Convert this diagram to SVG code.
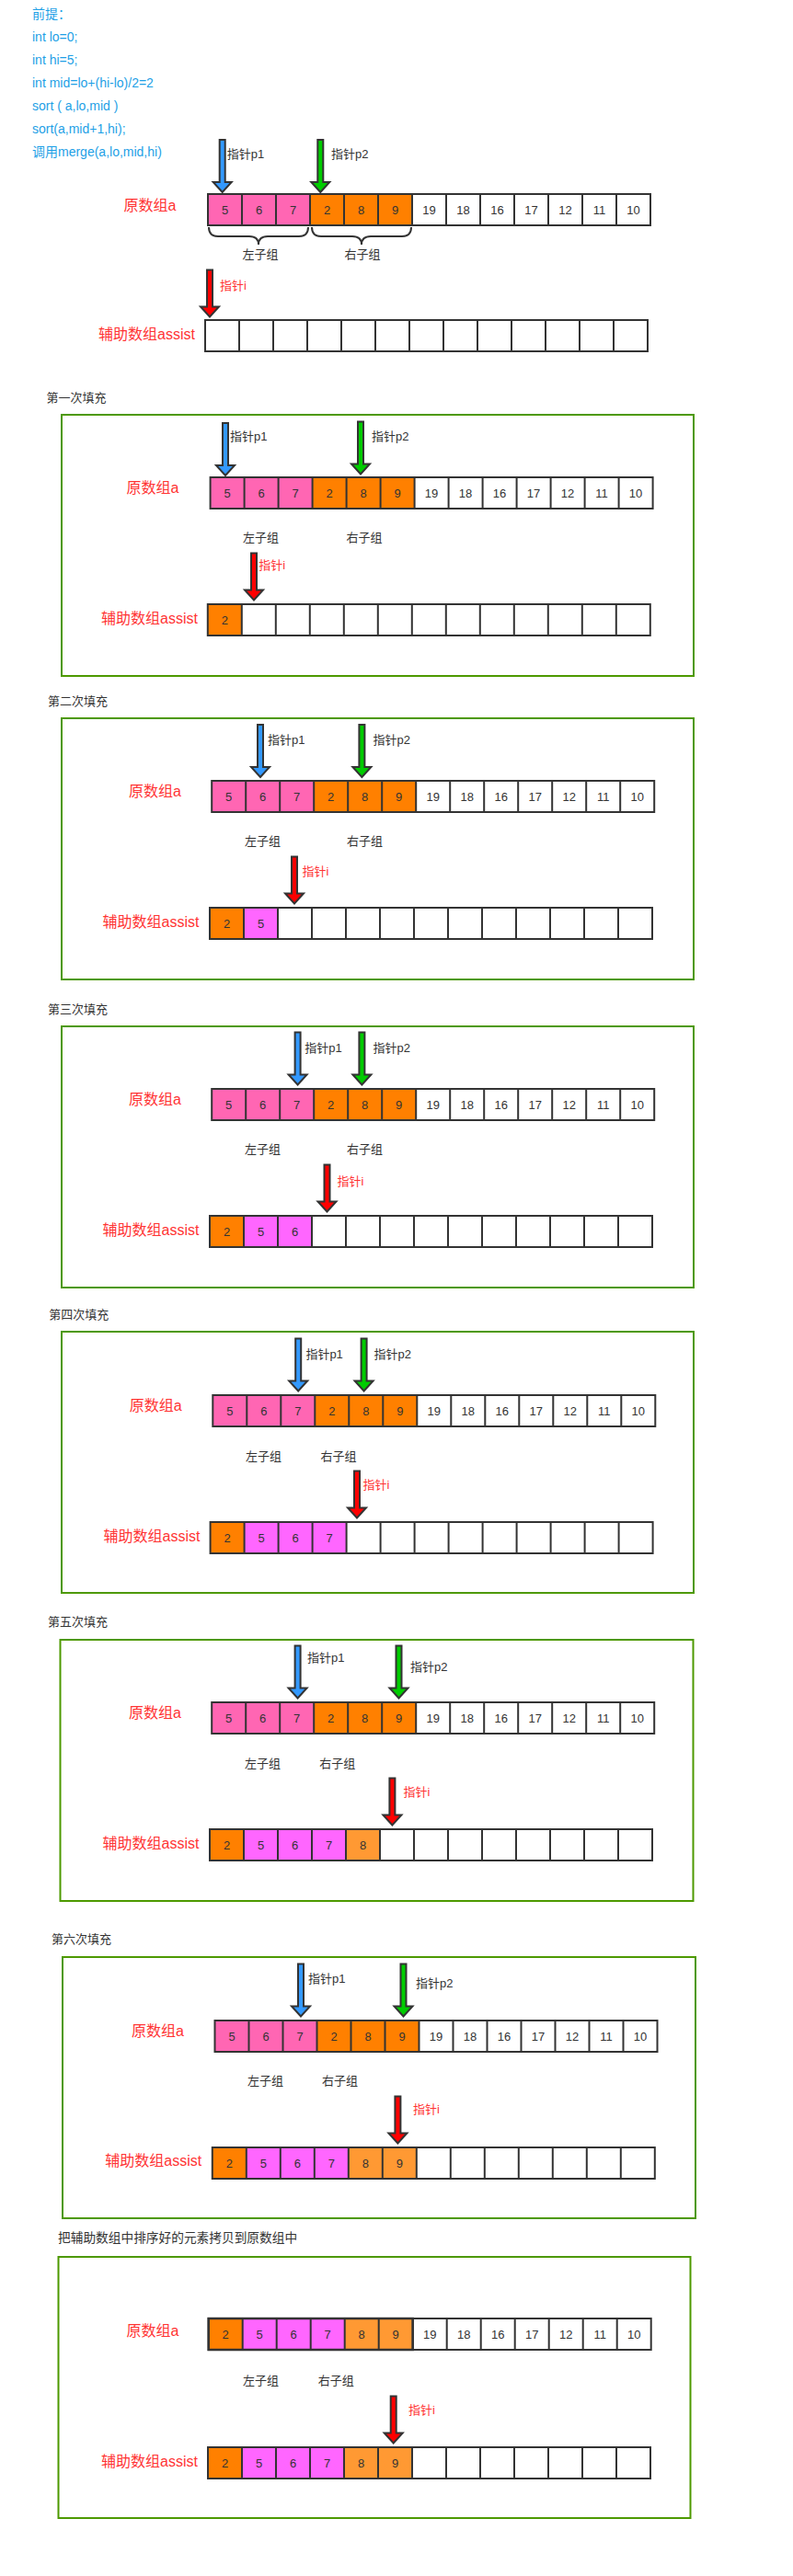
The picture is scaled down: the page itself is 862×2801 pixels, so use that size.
<svg xmlns="http://www.w3.org/2000/svg" xmlns:xlink="http://www.w3.org/1999/xlink" width="862" height="2801" viewBox="0 0 862 2801">
<style>
text{font-family:"Liberation Sans","Noto Sans CJK SC",sans-serif}
.hd{font-size:14px;fill:#1e9fe6}
.ttl{font-size:13px;fill:#333}
.lbl{font-size:13px;fill:#333}
.red{font-size:13px;fill:#ff3333}
.big{font-size:16px;fill:#ff3333}
.num{font-size:13px;fill:#333;text-anchor:middle}
.mid{text-anchor:middle}
.grid{fill:none;stroke:#333;stroke-width:2}
.box{fill:none;stroke:#4d9900;stroke-width:2}
.brace{fill:none;stroke:#333;stroke-width:2}
.arr{stroke:#333;stroke-width:2;stroke-linejoin:miter}
.pb{fill:#3399ff}.pg{fill:#00cc00}.pr{fill:#ff0000}
.pk{fill:#ff66b3}.or{fill:#ff8000}.mg{fill:#ff66ff}.lo{fill:#ff9933}
</style>
<defs>
<g id="grid" class="grid"><rect x="0" y="0" width="481" height="34"/><path d="M37 0V34M74 0V34M111 0V34M148 0V34M185 0V34M222 0V34M259 0V34M296 0V34M333 0V34M370 0V34M407 0V34M444 0V34"/></g>
<g id="arrA">
<rect class="pk" x="0" y="0" width="111" height="34"/>
<rect class="or" x="111" y="0" width="111" height="34"/>
<use href="#grid"/>
<text class="num" x="18.5" y="21.5">5</text><text class="num" x="55.5" y="21.5">6</text><text class="num" x="92.5" y="21.5">7</text><text class="num" x="129.5" y="21.5">2</text><text class="num" x="166.5" y="21.5">8</text><text class="num" x="203.5" y="21.5">9</text><text class="num" x="240.5" y="21.5">19</text><text class="num" x="277.5" y="21.5">18</text><text class="num" x="314.5" y="21.5">16</text><text class="num" x="351.5" y="21.5">17</text><text class="num" x="388.5" y="21.5">12</text><text class="num" x="425.5" y="21.5">11</text><text class="num" x="462.5" y="21.5">10</text>
</g>
<g id="c0"><rect class="or" x="0" y="0" width="37" height="34"/><text class="num" x="18.5" y="21.5">2</text></g>
<g id="c1"><rect class="mg" x="37" y="0" width="37" height="34"/><text class="num" x="55.5" y="21.5">5</text></g>
<g id="c2"><rect class="mg" x="74" y="0" width="37" height="34"/><text class="num" x="92.5" y="21.5">6</text></g>
<g id="c3"><rect class="mg" x="111" y="0" width="37" height="34"/><text class="num" x="129.5" y="21.5">7</text></g>
<g id="c4"><rect class="lo" x="148" y="0" width="37" height="34"/><text class="num" x="166.5" y="21.5">8</text></g>
<g id="c5"><rect class="lo" x="185" y="0" width="37" height="34"/><text class="num" x="203.5" y="21.5">9</text></g>
<path id="pArrow" d="M-3 -57H3V-11H10L0 0L-10 -11H-3Z"/>
<path id="rArrow" d="M-3 -51H3V-11H10L0 0L-10 -11H-3Z"/>
</defs>
<rect x="0" y="0" width="862" height="2801" fill="#ffffff"/>

<g id="premise">
<text class="hd" x="35" y="20">前提：</text>
<text class="hd" x="35" y="45">int lo=0;</text>
<text class="hd" x="35" y="70">int hi=5;</text>
<text class="hd" x="35" y="95">int mid=lo+(hi-lo)/2=2</text>
<text class="hd" x="35" y="120">sort ( a,lo,mid )</text>
<text class="hd" x="35" y="145">sort(a,mid+1,hi);</text>
<text class="hd" x="35" y="170">调用merge(a,lo,mid,hi)</text>
</g>

<g id="section0">
<g id="s0-a"><text class="big" x="134.6" y="229">原数组a</text><use href="#arrA" x="226" y="211"/></g>
<g id="s0-braces"><path class="brace" d="M227 247Q227 257 237 257H271Q281 257 281 266Q281 257 291 257H325Q335 257 335 247"/><path class="brace" d="M339 247Q339 257 349 257H383Q393 257 393 266Q393 257 403 257H437Q447 257 447 247"/>
<text class="lbl mid" x="283" y="280.5">左子组</text><text class="lbl mid" x="394" y="280.5">右子组</text></g>
<g id="s0-assist"><text class="big" x="107" y="369">辅助数组assist</text><use href="#grid" x="223" y="348"/></g>
<text class="lbl" x="246.7" y="171.5">指针p1</text><text class="lbl" x="360" y="171.5">指针p2</text><text class="red" x="239" y="314.5">指针i</text>
</g>

<g id="section1">
<text class="ttl" x="50.5" y="437">第一次填充</text>
<rect class="box" x="67" y="451" width="687" height="284"/>
<g id="s1-a"><text class="big" x="137.4" y="536">原数组a</text><use href="#arrA" x="228.6" y="519"/></g>
<text class="lbl" x="264" y="588.5">左子组</text><text class="lbl" x="376.4" y="588.5">右子组</text>
<g id="s1-assist"><text class="big" x="110" y="678">辅助数组assist</text><g transform="translate(225.8 657)"><use href="#c0"/><use href="#grid"/></g></g>
<text class="lbl" x="250" y="478.5">指针p1</text><text class="lbl" x="404" y="478.5">指针p2</text><text class="red" x="281.3" y="618.5">指针i</text>
</g>

<g id="section2">
<text class="ttl" x="52" y="767">第二次填充</text>
<rect class="box" x="67" y="781" width="687" height="284"/>
<g id="s2-a"><text class="big" x="140" y="866">原数组a</text><use href="#arrA" x="230.2" y="849"/></g>
<text class="lbl" x="266" y="918.5">左子组</text><text class="lbl" x="377" y="918.5">右子组</text>
<g id="s2-assist"><text class="big" x="111.5" y="1008">辅助数组assist</text><g transform="translate(228 987)"><use href="#c0"/><use href="#c1"/><use href="#grid"/></g></g>
<text class="lbl" x="291" y="808.5">指针p1</text><text class="lbl" x="405.5" y="808.5">指针p2</text><text class="red" x="328.6" y="951.5">指针i</text>
</g>

<g id="section3">
<text class="ttl" x="52" y="1102">第三次填充</text>
<rect class="box" x="67" y="1116" width="687" height="284"/>
<g id="s3-a"><text class="big" x="140" y="1201">原数组a</text><use href="#arrA" x="230.2" y="1184"/></g>
<text class="lbl" x="266" y="1253.5">左子组</text><text class="lbl" x="377" y="1253.5">右子组</text>
<g id="s3-assist"><text class="big" x="111.5" y="1343">辅助数组assist</text><g transform="translate(228 1322)"><use href="#c0"/><use href="#c1"/><use href="#c2"/><use href="#grid"/></g></g>
<text class="lbl" x="331.3" y="1143.5">指针p1</text><text class="lbl" x="405.5" y="1143.5">指针p2</text><text class="red" x="366.5" y="1288.5">指针i</text>
</g>

<g id="section4">
<text class="ttl" x="53.3" y="1434">第四次填充</text>
<rect class="box" x="67" y="1448" width="687" height="284"/>
<g id="s4-a"><text class="big" x="140.7" y="1534">原数组a</text><use href="#arrA" x="231.3" y="1517"/></g>
<text class="lbl" x="267" y="1587.5">左子组</text><text class="lbl" x="348.4" y="1587.5">右子组</text>
<g id="s4-assist"><text class="big" x="112.6" y="1676">辅助数组assist</text><g transform="translate(228.6 1655)"><use href="#c0"/><use href="#c1"/><use href="#c2"/><use href="#c3"/><use href="#grid"/></g></g>
<text class="lbl" x="332.4" y="1476.5">指针p1</text><text class="lbl" x="406.6" y="1476.5">指针p2</text><text class="red" x="394.5" y="1618.5">指针i</text>
</g>

<g id="section5">
<text class="ttl" x="52" y="1768">第五次填充</text>
<rect class="box" x="65.5" y="1783" width="688" height="284"/>
<g id="s5-a"><text class="big" x="140" y="1868">原数组a</text><use href="#arrA" x="230.2" y="1851"/></g>
<text class="lbl" x="266" y="1921.5">左子组</text><text class="lbl" x="347.3" y="1921.5">右子组</text>
<g id="s5-assist"><text class="big" x="111.5" y="2010">辅助数组assist</text><g transform="translate(228 1989)"><use href="#c0"/><use href="#c1"/><use href="#c2"/><use href="#c3"/><use href="#c4"/><use href="#grid"/></g></g>
<text class="lbl" x="334" y="1806.5">指针p1</text><text class="lbl" x="446" y="1816.5">指针p2</text><text class="red" x="438.5" y="1952.5">指针i</text>
</g>

<g id="section6">
<text class="ttl" x="56" y="2113">第六次填充</text>
<rect class="box" x="68" y="2128" width="688" height="284"/>
<g id="s6-a"><text class="big" x="143" y="2214">原数组a</text><use href="#arrA" x="233.5" y="2197"/></g>
<text class="lbl" x="269" y="2266.5">左子组</text><text class="lbl" x="350" y="2266.5">右子组</text>
<g id="s6-assist"><text class="big" x="114.3" y="2355">辅助数组assist</text><g transform="translate(230.8 2335)"><use href="#c0"/><use href="#c1"/><use href="#c2"/><use href="#c3"/><use href="#c4"/><use href="#c5"/><use href="#grid"/></g></g>
<text class="lbl" x="335" y="2155.5">指针p1</text><text class="lbl" x="452" y="2160.5">指针p2</text><text class="red" x="449" y="2297.5">指针i</text>
</g>

<g id="section7">
<text class="ttl" x="63" y="2438" style="font-size:13.7px">把辅助数组中排序好的元素拷贝到原数组中</text>
<rect class="box" x="63.5" y="2454" width="687" height="284"/>
<g id="s7-a"><text class="big" x="137.4" y="2540">原数组a</text>
<g transform="translate(226.7 2521)"><use href="#c0"/><use href="#c1"/><use href="#c2"/><use href="#c3"/><use href="#c4"/><use href="#c5"/><use href="#grid"/>
<rect x="0" y="0" width="222" height="34" fill="none" stroke="#333" stroke-width="2.5"/>
<text class="num" x="240.5" y="21.5">19</text><text class="num" x="277.5" y="21.5">18</text><text class="num" x="314.5" y="21.5">16</text><text class="num" x="351.5" y="21.5">17</text><text class="num" x="388.5" y="21.5">12</text><text class="num" x="425.5" y="21.5">11</text><text class="num" x="462.5" y="21.5">10</text></g></g>
<text class="lbl" x="264" y="2592.5">左子组</text><text class="lbl" x="345.7" y="2592.5">右子组</text>
<g id="s7-assist"><text class="big" x="110" y="2682">辅助数组assist</text><g transform="translate(226 2661)"><use href="#c0"/><use href="#c1"/><use href="#c2"/><use href="#c3"/><use href="#c4"/><use href="#c5"/><use href="#grid"/></g></g>
<text class="red" x="444" y="2624.5">指针i</text>
</g>

<g id="connectors">
<use href="#pArrow" class="arr pb" x="241.7" y="209"/><use href="#pArrow" class="arr pg" x="348.3" y="209"/><use href="#rArrow" class="arr pr" x="228" y="344.5"/>
<use href="#pArrow" class="arr pb" x="245" y="517"/><use href="#pArrow" class="arr pg" x="392" y="515.5"/><use href="#rArrow" class="arr pr" x="276" y="652.5"/>
<use href="#pArrow" class="arr pb" x="283" y="845"/><use href="#pArrow" class="arr pg" x="393.4" y="845"/><use href="#rArrow" class="arr pr" x="320" y="982.5"/>
<use href="#pArrow" class="arr pb" x="323.6" y="1179.5"/><use href="#pArrow" class="arr pg" x="393.4" y="1179.5"/><use href="#rArrow" class="arr pr" x="355.5" y="1317.5"/>
<use href="#pArrow" class="arr pb" x="324.2" y="1512.5"/><use href="#pArrow" class="arr pg" x="395.6" y="1512.5"/><use href="#rArrow" class="arr pr" x="388" y="1650.5"/>
<use href="#pArrow" class="arr pb" x="323.6" y="1846.5"/><use href="#pArrow" class="arr pg" x="433.5" y="1846.5"/><use href="#rArrow" class="arr pr" x="426.4" y="1984.5"/>
<use href="#pArrow" class="arr pb" x="327" y="2192.5"/><use href="#pArrow" class="arr pg" x="438.5" y="2192.5"/><use href="#rArrow" class="arr pr" x="432.4" y="2330.5"/>
<use href="#rArrow" class="arr pr" x="427.7" y="2656.5"/>
</g>
</svg>
